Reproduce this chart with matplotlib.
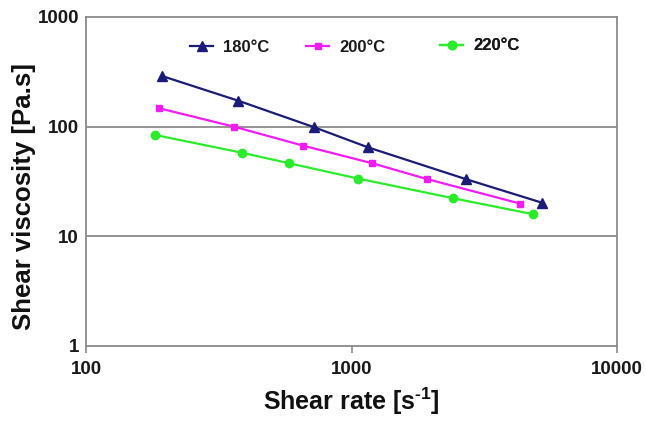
import matplotlib
matplotlib.use("Agg")
import matplotlib.pyplot as plt
from matplotlib.ticker import FixedLocator, FixedFormatter, NullLocator

plt.rcParams['font.family'] = ['Liberation Sans', 'DejaVu Sans']
plt.rcParams['mathtext.fontset'] = 'custom'
plt.rcParams['mathtext.rm'] = 'Liberation Sans:bold'
plt.rcParams['mathtext.bf'] = 'Liberation Sans:bold'
plt.rcParams['mathtext.it'] = 'Liberation Sans:bold'
plt.rcParams['mathtext.default'] = 'rm'

# Data
rate_180 = [193, 373, 724, 1151, 2700, 5204]
visc_180 = [290, 173, 98.7, 64.9, 33.2, 20.3]
rate_200 = [189, 361, 658, 1197, 1923, 4313]
visc_200 = [147, 100, 67.1, 46.4, 33.3, 19.9]
rate_220 = [182, 386, 582, 1061, 2405, 4838]
visc_220 = [84, 57.9, 46.4, 33.6, 22.3, 15.9]

series_labels = ["180°C", "200°C", "220°C"]
x_ticks = [100, 1000, 10000]
x_ticklabels = ["100", "1000", "10000"]
y_ticks = [1, 10, 100, 1000]
y_ticklabels = ["1", "10", "100", "1000"]

W, H = 646, 421
fig = plt.figure(figsize=(W / 100, H / 100), dpi=100)
ax = fig.add_axes([86 / W, 1 - 346 / H, (617 - 86) / W, (346 - 17) / H])

grid_c = "#8a8a8a"
c180, c200, c220 = "#1b1b78", "#f21cf2", "#2aec2a"

ax.set_xscale("log")
ax.set_yscale("log")
ax.set_xlim(100, 10000)
ax.set_ylim(1, 1000)

for yv in [10, 100]:
    ax.axhline(yv, color=grid_c, lw=1.3, zorder=1)

l1, = ax.plot(rate_180, visc_180, color=c180, marker="^", ms=6.5, lw=1.6, label=series_labels[0], zorder=3)
l2, = ax.plot(rate_200, visc_200, color=c200, marker="s", ms=5, lw=1.6, label=series_labels[1], zorder=3)
l3, = ax.plot(rate_220, visc_220, color=c220, marker="o", ms=6, lw=1.6, label=series_labels[2], zorder=3)

for s in ax.spines.values():
    s.set_color(grid_c)
    s.set_linewidth(1.3)

ax.xaxis.set_major_locator(FixedLocator(x_ticks))
ax.xaxis.set_major_formatter(FixedFormatter(x_ticklabels))
ax.xaxis.set_minor_locator(NullLocator())
ax.yaxis.set_major_locator(FixedLocator(y_ticks))
ax.yaxis.set_major_formatter(FixedFormatter(y_ticklabels))
ax.yaxis.set_minor_locator(NullLocator())

ax.tick_params(axis="x", direction="out", length=5, width=1.2, color=grid_c, pad=5.5,
               labelsize=13.5, labelcolor="#1a1a1a")
ax.tick_params(axis="y", length=0, pad=5, labelsize=13.5, labelcolor="#1a1a1a")
for t in ax.get_xticklabels() + ax.get_yticklabels():
    t.set_fontweight("bold")

ax.set_xlabel("Shear rate [s$^{\\text{-}1}$]", fontsize=18, fontweight="bold", color="#111111")
ax.set_ylabel("Shear viscosity [Pa.s]", fontsize=18.5, fontweight="bold", color="#111111")
ax.yaxis.set_label_coords(-(86 - 36) / (617 - 86), 1 - (197 - 17) / (346 - 17))
ax.xaxis.set_label_coords((351 - 86) / (617 - 86), -(386 - 346) / (346 - 17))

# Legend entries placed individually
positions = [(190, 47), (306, 47), (440, 46)]
for handle, (px, py) in zip([l1, l2, l3], positions):
    leg = ax.legend(handles=[handle], loc="center left",
                    bbox_to_anchor=(px / W, 1 - py / H), bbox_transform=fig.transFigure,
                    frameon=False, borderpad=0, borderaxespad=0,
                    handlelength=1.4, handletextpad=0.6,
                    prop={"size": 12, "weight": "bold"})
    for txt in leg.get_texts():
        txt.set_color("#1a1a1a")
    ax.add_artist(leg)

fig.savefig("out.png", dpi=100)
